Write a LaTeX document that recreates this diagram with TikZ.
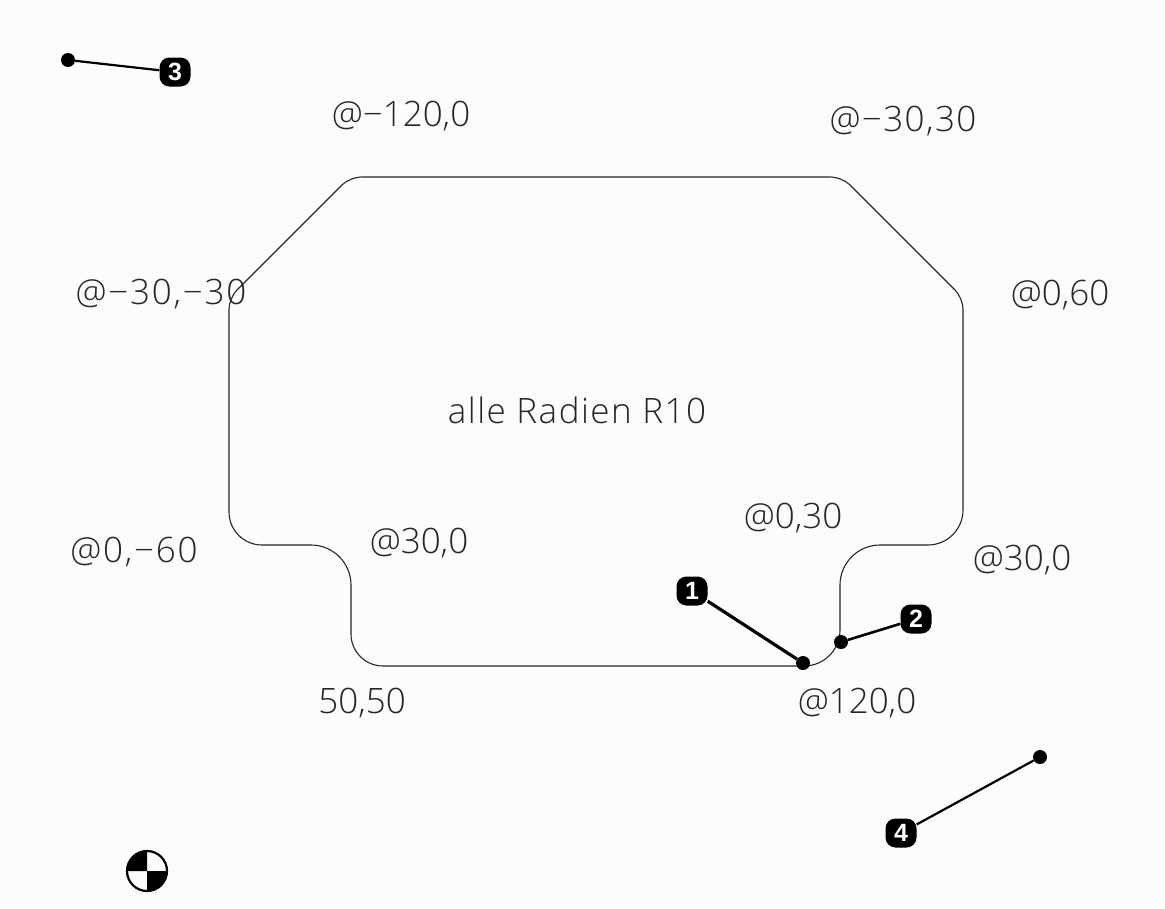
\documentclass[tikz,border=0pt]{standalone}
\usepackage{fontspec}
\setmainfont{Open Sans Light}
\newfontfamily\balloonfont{Liberation Sans}
\begin{document}
\begin{tikzpicture}[x=1pt,y=-1pt,
  lbl/.style={font=\fontsize{35}{35}\selectfont,text=black!85,inner sep=0pt,anchor=center},
  spaced/.style={font=\fontsize{35}{35}\selectfont\addfontfeature{LetterSpace=#1}},
  outline/.style={draw=black!85,line width=1.1pt},
  balloon/.style={rectangle,rounded corners=10pt,fill=black,text=white,minimum width=31pt,minimum height=29pt,inner sep=0pt,font=\balloonfont\bfseries\fontsize{25}{25}\selectfont},
  dot/.style={circle,fill=black,minimum size=14pt,inner sep=0pt},
  leader/.style={draw=black,line width=2.2pt}]
\useasboundingbox (0,0) rectangle (1165,908);
\fill[black!1] (0,0) rectangle (1165,908);
\path[outline] (600,666) [rounded corners=36pt] -- (840,666) [rounded corners=40pt] -- (840,545)
  [rounded corners=35pt] -- (963,545) [rounded corners=11pt] -- (963,298) -- (842,177) -- (350,177)
  -- (229,298) [rounded corners=33pt] -- (229,545) [rounded corners=40pt] -- (351,545)
  [rounded corners=32pt] -- (351,666) [sharp corners] -- (600,666);
\node[lbl] (t1) at (401,116) {@−120,0};
\node[lbl,spaced=4] (t2) at (903,121) {@−30,30};
\node[lbl,spaced=5] (t3) at (161,294) {@−30,−30};
\node[lbl] (t4) at (1060,295) {@0,60};
\node[lbl,spaced=4.2] (t5) at (577,410) {alle Radien R10};
\node[lbl] (t6) at (793,518) {@0,30};
\node[lbl] (t7) at (419,543) {@30,0};
\node[lbl] (t8) at (1022,560) {@30,0};
\node[lbl,spaced=5] (t9) at (134,552) {@0,−60};
\node[lbl] (t10) at (362,703) {50,50};
\node[lbl] (t11) at (857,703) {@120,0};
\node[balloon] (b1) at (692,591) {1};
\node[balloon] (b2) at (916,619) {2};
\node[balloon] (b3) at (175,72) {3};
\node[balloon] (b4) at (901,833) {4};
\node[dot] (d1) at (803,663) {};
\node[dot] (d2) at (841,642) {};
\node[dot] (d3) at (68,60) {};
\node[dot] (d4) at (1040,757) {};
\draw[leader,line width=3.2pt] (b1) -- (d1);
\draw[leader,line width=2.6pt] (b2) -- (d2);
\draw[leader] (b3) -- (d3);
\draw[leader] (b4) -- (d4);
\coordinate (c) at (147,871);
\fill[black] (c) -- +(-20,0) arc[start angle=180,end angle=90,radius=20pt] -- cycle;
\fill[black] (c) -- +(20,0) arc[start angle=0,end angle=-90,radius=20pt] -- cycle;
\draw[black,line width=2.2pt] (c) circle[radius=20pt];
\end{tikzpicture}
\end{document}
